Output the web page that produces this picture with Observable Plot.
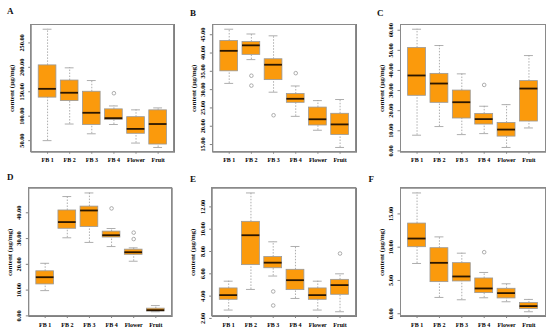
<!DOCTYPE html>
<html><head><meta charset="utf-8">
<script src="https://cdn.jsdelivr.net/npm/d3@7"></script>
<script src="https://cdn.jsdelivr.net/npm/@observablehq/plot@0.6"></script>
<style>
body{margin:0;background:#fff;}
#root{position:relative;width:550px;height:333px;overflow:hidden;background:#fff;}
.panel{position:absolute;z-index:1;}
.box{position:absolute;z-index:2;box-sizing:border-box;border:1px solid #8a8a8a;pointer-events:none;}
</style></head><body>
<div id="root"></div>
<script>
const groups = ["FB 1", "FB 2", "FB 3", "FB 4", "Flower", "Fruit"];
const yTitle = "content (µg/mg)";

// Panel A
const A_lo  = [50, 84, 64, 83, 45, 36];
const A_q1  = [138, 131, 82, 92.5, 64, 42];
const A_med = [156, 148, 107, 96, 74, 84];
const A_q3  = [204, 173, 150, 114, 98, 112];
const A_hi  = [278, 199, 173, 121, 113, 117];
const A_out = [["FB 4", 147]];
const A_ticks = [50, 100, 150, 200, 250];

// Panel B
const B_lo  = [31.7, 38.2, 29.3, 22.7, 18.9, 14.2];
const B_q1  = [35, 39.5, 32.6, 26.4, 20.2, 17.6];
const B_med = [40.6, 42.1, 36.8, 27.5, 21.9, 20.5];
const B_q3  = [43.3, 43, 38.3, 28.8, 25.1, 23.4];
const B_hi  = [46.5, 45.2, 44.7, 31, 27, 27.3];
const B_out = [["FB 2", 33.8], ["FB 2", 31.1], ["FB 3", 23], ["FB 4", 34.5]];
const B_ticks = [15, 20, 25, 30, 35, 40, 45];

// Panel C
const C_lo  = [7.8, 12.1, 8.1, 8.6, 1.7, 11.4];
const C_q1  = [27.4, 23.9, 16.1, 13.1, 7.1, 14.6];
const C_med = [37.5, 33.5, 24.2, 15.8, 10.6, 31];
const C_q3  = [51.2, 38.3, 30, 18.4, 13.9, 34.7];
const C_hi  = [60.5, 52.4, 38.3, 22.2, 23, 47.4];
const C_out = [["FB 4", 32.8]];
const C_ticks = [0, 10, 20, 30, 40, 50, 60];

// Panel D
const D_lo  = [9.8, 30.3, 28.5, 26.9, 21.2, 1.6];
const D_q1  = [12.2, 33.8, 34.5, 30.4, 23.7, 1.7];
const D_med = [15, 36.4, 40.9, 31.3, 24.7, 2.2];
const D_q3  = [17.3, 40.9, 42.4, 32.7, 25.7, 2.8];
const D_hi  = [20.4, 46.3, 47.7, 33.9, 26.4, 4];
const D_out = [["FB 4", 41.7], ["Flower", 32.3], ["Flower", 29.8]];
const D_ticks = [0, 10, 20, 30, 40];

// Panel E
const E_lo  = [2.75, 4.6, 5.8, 3.79, 2.75, 2.6];
const E_q1  = [3.67, 6.78, 6.5, 4.54, 3.67, 4.12];
const E_med = [4.09, 9.46, 7.0, 5.43, 4.09, 4.99];
const E_q3  = [4.69, 10.66, 7.5, 6.36, 4.69, 5.46];
const E_hi  = [5.34, 13.25, 8.87, 8.45, 5.34, 6.0];
const E_out = [["FB 3", 4.42], ["FB 3", 3.16], ["Fruit", 7.82]];
const E_ticks = [2, 4, 6, 8, 10, 12];

// Panel F
const F_lo  = [7.55, 2.45, 2.1, 2.4, 1.8, 0.3];
const F_q1  = [10, 4.75, 4.85, 3.1, 2.3, 0.7];
const F_med = [11.3, 7.65, 5.6, 3.8, 3.1, 1.15];
const F_q3  = [13.55, 9.85, 7.6, 5.3, 3.75, 1.6];
const F_hi  = [18.15, 11.55, 9.1, 6.2, 4.5, 2.15];
const F_out = [["FB 4", 9.25]];
const F_ticks = [0, 5, 10, 15];

const panels = [
  {letter:"A", lo:A_lo, q1:A_q1, med:A_med, q3:A_q3, hi:A_hi, out:A_out, ticks:A_ticks,
   left:0, top:0, w:182, h:165, ml:30.7, mr:8, mt:24, mb:13.3, lx:6.5, ly:13.5},
  {letter:"B", lo:B_lo, q1:B_q1, med:B_med, q3:B_q3, hi:B_hi, out:B_out, ticks:B_ticks,
   left:182, top:0, w:182, h:165, ml:30.3, mr:8, mt:24, mb:13.3, lx:7.5, ly:15},
  {letter:"C", lo:C_lo, q1:C_q1, med:C_med, q3:C_q3, hi:C_hi, out:C_out, ticks:C_ticks,
   left:364, top:0, w:186, h:165, ml:36, mr:5, mt:24, mb:13.3, lx:12.5, ly:15},
  {letter:"D", lo:D_lo, q1:D_q1, med:D_med, q3:D_q3, hi:D_hi, out:D_out, ticks:D_ticks,
   left:0, top:165, w:182, h:168, ml:28.3, mr:10.3, mt:22.7, mb:17, lx:6.5, ly:14},
  {letter:"E", lo:E_lo, q1:E_q1, med:E_med, q3:E_q3, hi:E_hi, out:E_out, ticks:E_ticks,
   left:182, top:165, w:182, h:168, ml:29.7, mr:8, mt:22.7, mb:17, lx:7.5, ly:16},
  {letter:"F", lo:F_lo, q1:F_q1, med:F_med, q3:F_q3, hi:F_hi, out:F_out, ticks:F_ticks,
   left:364, top:165, w:186, h:168, ml:36, mr:5, mt:22.7, mb:17, lx:4, ly:16}
];

const ORANGE = "#FB9A0C";
const GREY = "#999999";
const FRAME = "#808080";
const FONT = "'Liberation Serif', 'Times New Roman', serif";
const fmt = d3.format(".2f");
const X_DOMAIN = [0.26, 6.74];

const root = document.getElementById("root");

function makePanel(p) {
  const rows = groups.map((g, i) => ({i: i + 1, g, lo: p.lo[i], q1: p.q1[i], med: p.med[i], q3: p.q3[i], hi: p.hi[i]}));
  const outs = p.out.map(([g, v]) => ({i: groups.indexOf(g) + 1, v}));
  const all = [...p.lo, ...p.hi, ...outs.map(d => d.v)];
  const mn = d3.min(all), mx = d3.max(all), ext = (mx - mn) * 0.04;
  const yDomain = [mn - ext, mx + ext];
  const chart = Plot.plot({
    width: p.w, height: p.h,
    marginLeft: p.ml, marginRight: p.mr, marginTop: p.mt, marginBottom: p.mb,
    style: {fontFamily: FONT, fontWeight: "bold", overflow: "visible", background: "transparent"},
    x: {domain: X_DOMAIN},
    y: {domain: yDomain},
    marks: [
      Plot.frame({stroke: FRAME, strokeWidth: 1}),
      Plot.rect(rows, {x1: d => d.i - 0.4, x2: d => d.i + 0.4, y1: "q1", y2: "q3", fill: ORANGE, stroke: GREY, strokeWidth: 0.8}),
      Plot.ruleX(rows, {x: "i", y1: "q3", y2: "hi", stroke: GREY, strokeWidth: 0.8, strokeDasharray: "1.5,1.5"}),
      Plot.ruleX(rows, {x: "i", y1: "lo", y2: "q1", stroke: GREY, strokeWidth: 0.8, strokeDasharray: "1.5,1.5"}),
      Plot.ruleY(rows, {y: "hi", x1: d => d.i - 0.2, x2: d => d.i + 0.2, stroke: GREY, strokeWidth: 0.8}),
      Plot.ruleY(rows, {y: "lo", x1: d => d.i - 0.2, x2: d => d.i + 0.2, stroke: GREY, strokeWidth: 0.8}),
      Plot.ruleY(rows, {y: "med", x1: d => d.i - 0.4, x2: d => d.i + 0.4, stroke: "#2a1600", strokeWidth: 1.8}),
      Plot.dot(outs, {x: "i", y: "v", r: 1.8, stroke: GREY, fill: "none", strokeWidth: 0.8}),
      Plot.axisY({ticks: p.ticks, tickFormat: fmt, tickRotate: -90, tickSize: 2.5, tickPadding: 5,
                  fontSize: 6.3, stroke: FRAME, strokeWidth: 1, label: null}),
      Plot.axisX({ticks: [1, 2, 3, 4, 5, 6], tickFormat: i => groups[i - 1], tickSize: 2, tickPadding: 4,
                  fontSize: 6, stroke: FRAME, strokeWidth: 1, label: null}),
      Plot.text([yTitle], {frameAnchor: "left", textAnchor: "middle", lineAnchor: "middle", rotate: -90, dx: -19,
                           fontSize: 7, fontWeight: "bold", fill: "#111"}),
      Plot.text([p.letter], {frameAnchor: "top-left", textAnchor: "start", lineAnchor: "bottom",
                             dx: p.lx - p.ml, dy: p.ly - p.mt, fontSize: 9, fontWeight: "bold", fill: "#111"})
    ]
  });
  chart.classList.add("panel");
  chart.style.left = p.left + "px";
  chart.style.top = p.top + "px";
  root.appendChild(chart);

  // plot-region border placed exactly over the Plot frame
  const box = document.createElement("div");
  box.className = "box";
  box.style.left = (p.left + p.ml - 0.5) + "px";
  box.style.top = (p.top + p.mt - 0.5) + "px";
  box.style.width = (p.w - p.ml - p.mr + 1) + "px";
  box.style.height = (p.h - p.mt - p.mb + 1) + "px";
  root.appendChild(box);
}

panels.forEach(makePanel);
</script>
</body></html>
